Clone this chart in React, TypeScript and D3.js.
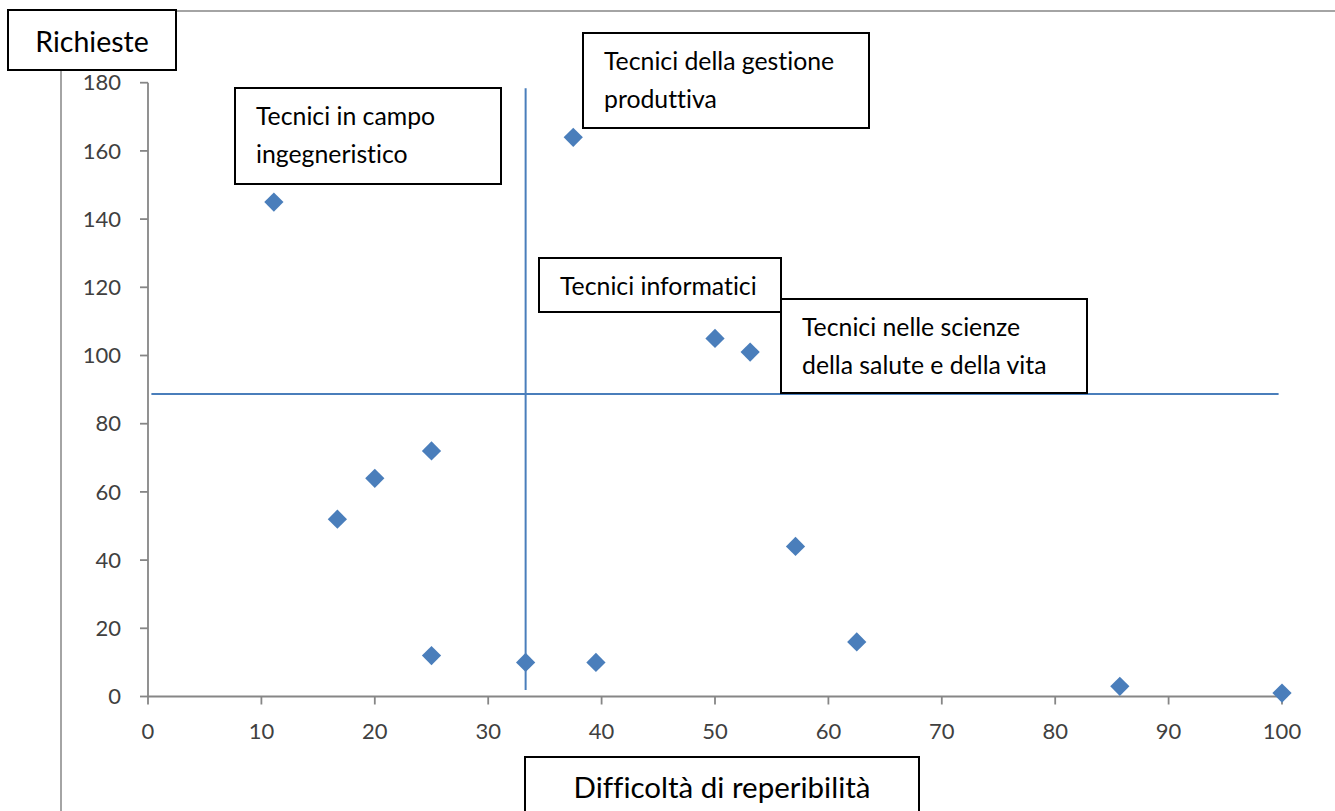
import React from "react";
import * as d3 from "d3";

// Data
const difficolta = [11.1, 37.5, 50, 53.1, 25, 20, 16.7, 57.1, 25, 33.3, 39.5, 62.5, 85.7, 100];
const richieste = [145, 164, 105, 101, 72, 64, 52, 44, 12, 10, 10, 16, 3, 1];

const xTicks = [0, 10, 20, 30, 40, 50, 60, 70, 80, 90, 100];
const yTicks = [0, 20, 40, 60, 80, 100, 120, 140, 160, 180];

// Quadrant reference lines (data units)
const vLine = { x: 33.3, y0: 1.9, y1: 178.4 };
const hLine = { y: 88.7, x0: 0.3, x1: 99.7 };

const labelLines = [
  ["Tecnici in campo", "ingegneristico"],
  ["Tecnici della gestione", "produttiva"],
  ["Tecnici informatici"],
  ["Tecnici nelle scienze", "della salute e della vita"],
];

const yTitle = "Richieste";
const xTitle = "Difficoltà di reperibilità";

// Layout
const W = 1335;
const H = 811;
const FONT = "Lato, 'Open Sans', sans-serif";
const boxes = [
  { x: 235, y: 88, w: 266, h: 96 },
  { x: 583, y: 33, w: 286, h: 95 },
  { x: 539, y: 258, w: 242, h: 54 },
  { x: 781, y: 299, w: 306, h: 94 },
];

export default function App() {
  const x = d3.scaleLinear().domain([0, 100]).range([148, 1282]);
  const y = d3.scaleLinear().domain([0, 180]).range([696.5, 82.7]);
  const diamond = d3.symbol().type(d3.symbolSquare).size(185)() as string;
  const axisColor = "#868686";
  const blue = "#4A7EBB";
  const pts = difficolta.map((d, i) => [d, richieste[i]]);

  return (
    <svg
      width={W}
      height={H}
      style={{ position: "absolute", left: 0, top: 0, background: "#fff", fontVariantLigatures: "none" }}
      fontFamily={FONT}
    >
      {/* chart area border */}
      <rect x={61} y={11} width={W} height={H} fill="#fff" stroke={axisColor} strokeWidth={1.5} />

      {/* y axis */}
      <line x1={x(0)} x2={x(0)} y1={y(180)} y2={y(0)} stroke={axisColor} strokeWidth={1.8} />
      {yTicks.map((t) => (
        <g key={"y" + t}>
          <line x1={x(0) - 8} x2={x(0)} y1={y(t)} y2={y(t)} stroke={axisColor} strokeWidth={1.8} />
          <text x={121} y={y(t)} dy="0.35em" textAnchor="end" fontSize={22} fill="#404040">
            {t}
          </text>
        </g>
      ))}

      {/* x axis */}
      <line x1={x(0)} x2={x(100)} y1={y(0)} y2={y(0)} stroke={axisColor} strokeWidth={1.8} />
      {xTicks.map((t) => (
        <g key={"x" + t}>
          <line x1={x(t)} x2={x(t)} y1={y(0)} y2={y(0) + 8} stroke={axisColor} strokeWidth={1.8} />
          <text x={x(t)} y={731.5} dy="0.35em" textAnchor="middle" fontSize={22} fill="#404040">
            {t}
          </text>
        </g>
      ))}

      {/* reference lines */}
      <line x1={x(vLine.x)} x2={x(vLine.x)} y1={y(vLine.y0)} y2={y(vLine.y1)} stroke={blue} strokeWidth={2} />
      <line x1={x(hLine.x0)} x2={x(hLine.x1)} y1={y(hLine.y)} y2={y(hLine.y)} stroke={blue} strokeWidth={2} />

      {/* points */}
      {pts.map(([a, b], i) => (
        <path
          key={"p" + i}
          d={diamond}
          transform={`translate(${x(a)},${y(b)}) rotate(45)`}
          fill={blue}
        />
      ))}

      {/* label boxes */}
      {boxes.map((b, i) => (
        <g key={"b" + i}>
          <rect x={b.x} y={b.y} width={b.w} height={b.h} fill="#fff" stroke="#000" strokeWidth={2} />
          {labelLines[i].map((ln, j) => (
            <text
              key={j}
              x={b.x + 21}
              y={b.y + 28 + j * 38}
              dy="0.35em"
              fontSize={24.8}
              fill="#000"
            >
              {ln}
            </text>
          ))}
        </g>
      ))}

      {/* axis titles */}
      <rect x={8} y={10} width={168} height={60} fill="#fff" stroke="#000" strokeWidth={2} />
      <text x={92} y={42} dy="0.35em" textAnchor="middle" fontSize={28.5} fill="#000">
        {yTitle}
      </text>
      <rect x={525} y={757} width={394} height={70} fill="#fff" stroke="#000" strokeWidth={2} />
      <text x={722} y={788} dy="0.35em" textAnchor="middle" fontSize={29.5} fill="#000">
        {xTitle}
      </text>
    </svg>
  );
}
